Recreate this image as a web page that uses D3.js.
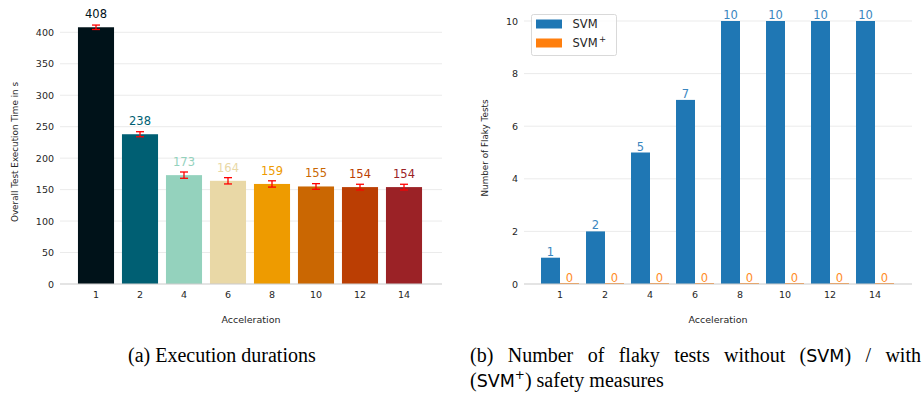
<!DOCTYPE html>
<html><head><meta charset="utf-8">
<script src="https://cdn.jsdelivr.net/npm/d3@7"></script>
<style>
body{margin:0;background:#fff;}
svg{display:block;}
</style></head><body>
<svg id="c" width="923" height="397"></svg>
<script>
// ---- data ----
const accel = ["1","2","4","6","8","10","12","14"];
const execTime = [408, 238, 173, 164, 159, 155, 154, 154];
const execErr = [3.5, 4, 5, 5, 5, 4.5, 4.5, 4.5];
const barColors = ["#001219","#005f73","#94d2bd","#e9d8a6","#ee9b00","#ca6702","#bb3e03","#9b2226"];
const leftTicks = [0,50,100,150,200,250,300,350,400];
const flakySVM = [1, 2, 5, 7, 10, 10, 10, 10];
const flakySVMplus = [0, 0, 0, 0, 0, 0, 0, 0];
const rightTicks = [0,2,4,6,8,10];
const seriesNames = ["SVM", "SVM+"];
const seriesColors = ["#1f77b4", "#ff7f0e"];

const svg = d3.select("#c");
const font = "'DejaVu Sans', sans-serif";
const tickCol = "#262626";

// ---------- Left chart ----------
const L = svg.append("g");
const xL = d3.scaleBand().domain(accel).range([74, 426]).paddingInner(0.18).paddingOuter(0.09);
const yL = d3.scaleLinear().domain([0, 400]).range([284, 32.3]);

L.append("g").selectAll("line").data(leftTicks.filter(d=>d>0)).join("line")
  .attr("x1", 60).attr("x2", 442).attr("y1", d=>yL(d)).attr("y2", d=>yL(d))
  .attr("stroke", "#ebebeb").attr("stroke-width", 1);

L.append("g").selectAll("rect").data(execTime).join("rect")
  .attr("x", (d,i)=>xL(accel[i])).attr("width", xL.bandwidth())
  .attr("y", d=>yL(d)).attr("height", d=>yL(0)-yL(d))
  .attr("fill", (d,i)=>barColors[i]);

L.append("line").attr("x1",60).attr("x2",442).attr("y1",yL(0)).attr("y2",yL(0))
  .attr("stroke","#cccccc").attr("stroke-opacity",0.7).attr("stroke-width",1.6);

// error bars
const eb = L.append("g").attr("stroke","#ff0000").attr("stroke-width",1.3);
execTime.forEach((v,i)=>{
  const cx = xL(accel[i]) + xL.bandwidth()/2;
  const e = execErr[i];
  eb.append("line").attr("x1",cx).attr("x2",cx).attr("y1",yL(v-e)).attr("y2",yL(v+e));
  eb.append("line").attr("x1",cx-4).attr("x2",cx+4).attr("y1",yL(v-e)).attr("y2",yL(v-e));
  eb.append("line").attr("x1",cx-4).attr("x2",cx+4).attr("y1",yL(v+e)).attr("y2",yL(v+e));
});

// value labels
L.append("g").selectAll("text").data(execTime).join("text")
  .attr("x", (d,i)=>xL(accel[i]) + xL.bandwidth()/2)
  .attr("y", d=>yL(d) - 9)
  .attr("text-anchor","middle").attr("font-family",font).attr("font-size",11.5)
  .attr("fill",(d,i)=>barColors[i])
  .text(d=>d);

// y axis
const yAxL = d3.axisLeft(yL).tickValues(leftTicks).tickSize(0).tickPadding(0);
L.append("g").attr("transform","translate(54,0)").call(yAxL)
  .call(g=>g.select(".domain").remove())
  .call(g=>g.selectAll("text").attr("font-family",font).attr("font-size",9.5).attr("fill",tickCol));
// x axis
const xAxL = d3.axisBottom(xL).tickSize(0).tickPadding(0);
L.append("g").attr("transform","translate(0,291)").call(xAxL)
  .call(g=>g.select(".domain").remove())
  .call(g=>g.selectAll("text").attr("font-family",font).attr("font-size",9.5).attr("fill",tickCol));

L.append("text").attr("x",251).attr("y",323).attr("text-anchor","middle")
  .attr("font-family",font).attr("font-size",9.5).attr("fill",tickCol).text("Acceleration");
L.append("text").attr("transform","translate(18,152) rotate(-90)").attr("text-anchor","middle")
  .attr("font-family",font).attr("font-size",8.8).attr("fill",tickCol).text("Overall Test Execution Time in s");

// ---------- Right chart ----------
const R = svg.append("g");
const xR = d3.scaleBand().domain(accel).range([537.5, 897.5]).paddingInner(0.156).paddingOuter(0.078);
const xSub = d3.scaleBand().domain(seriesNames).range([0, xR.bandwidth()]);
const yR = d3.scaleLinear().domain([0, 10]).range([284, 21]);

R.append("g").selectAll("line").data(rightTicks.filter(d=>d>0)).join("line")
  .attr("x1", 524).attr("x2", 912).attr("y1", d=>yR(d)).attr("y2", d=>yR(d))
  .attr("stroke", "#ebebeb").attr("stroke-width", 1);

const seriesData = [flakySVM, flakySVMplus];
seriesData.forEach((arr, s)=>{
  const g = R.append("g");
  g.selectAll("rect").data(arr).join("rect")
    .attr("x",(d,i)=>xR(accel[i]) + xSub(seriesNames[s])).attr("width", xSub.bandwidth())
    .attr("y", d=>yR(d)).attr("height", d=>yR(0)-yR(d))
    .attr("fill", seriesColors[s]);
  // zero-height bars drawn as a thin line
  g.selectAll("line").data(arr).join("line")
    .attr("display", d=>d===0 ? null : "none")
    .attr("x1",(d,i)=>xR(accel[i]) + xSub(seriesNames[s])).attr("x2",(d,i)=>xR(accel[i]) + xSub(seriesNames[s]) + xSub.bandwidth())
    .attr("y1", yR(0)-0.5).attr("y2", yR(0)-0.5).attr("stroke", seriesColors[s]).attr("stroke-width",1);
  g.selectAll("text").data(arr).join("text")
    .attr("x",(d,i)=>xR(accel[i]) + xSub(seriesNames[s]) + xSub.bandwidth()/2)
    .attr("y", d=>yR(d) - 2)
    .attr("text-anchor","middle").attr("font-family",font).attr("font-size",11.5)
    .attr("fill", s===0 ? "#3a86c0" : "#ff8c26")
    .text(d=>d);
});

R.append("line").attr("x1",524).attr("x2",912).attr("y1",yR(0)).attr("y2",yR(0))
  .attr("stroke","#cccccc").attr("stroke-opacity",0.7).attr("stroke-width",1.6);

const yAxR = d3.axisLeft(yR).tickValues(rightTicks).tickSize(0).tickPadding(0);
R.append("g").attr("transform","translate(518,0)").call(yAxR)
  .call(g=>g.select(".domain").remove())
  .call(g=>g.selectAll("text").attr("font-family",font).attr("font-size",9.5).attr("fill",tickCol));
const xAxR = d3.axisBottom(xR).tickSize(0).tickPadding(0);
R.append("g").attr("transform","translate(0,291)").call(xAxR)
  .call(g=>g.select(".domain").remove())
  .call(g=>g.selectAll("text").attr("font-family",font).attr("font-size",9.5).attr("fill",tickCol));

R.append("text").attr("x",718).attr("y",323).attr("text-anchor","middle")
  .attr("font-family",font).attr("font-size",9.5).attr("fill",tickCol).text("Acceleration");
R.append("text").attr("transform","translate(488,148) rotate(-90)").attr("text-anchor","middle")
  .attr("font-family",font).attr("font-size",8.8).attr("fill",tickCol).text("Number of Flaky Tests");

// legend
const lg = R.append("g");
lg.append("rect").attr("x",531.5).attr("y",14.5).attr("width",85).attr("height",41).attr("rx",2)
  .attr("fill","#fff").attr("fill-opacity",0.8).attr("stroke","#d9d9d9");
seriesNames.forEach((n,i)=>{
  const yy = 24 + i*19;
  lg.append("rect").attr("x",536).attr("y",yy-4.5).attr("width",26).attr("height",9).attr("fill",seriesColors[i]);
  const t = lg.append("text").attr("x",572.5).attr("y",yy+4).attr("font-family",font).attr("font-size",11.5).attr("fill",tickCol);
  if (n === "SVM+") {
    t.append("tspan").text("SVM");
    t.append("tspan").attr("dy",-5).attr("dx",1.5).attr("font-size",8.5).text("+");
  } else t.text(n);
});

// ---------- Captions ----------
const serif = "'Liberation Serif', 'Times New Roman', serif";
const capSize = 20;
const capSans = 17.5;
svg.append("text").attr("x",128).attr("y",362).attr("font-family",serif).attr("font-size",capSize).attr("fill","#000")
  .text("(a) Execution durations");
const c1 = svg.append("text").attr("x",470).attr("y",362).attr("font-family",serif).attr("font-size",capSize).attr("fill","#000");
c1.append("tspan").text("(b) Number of flaky tests without (");
c1.append("tspan").attr("font-family",font).attr("font-size",capSans).text("SVM");
c1.append("tspan").text(") / with");
// justify line 1 to the right edge by widening word gaps
const natural = c1.node().getComputedTextLength();
const gaps = 8;
c1.attr("word-spacing", Math.max(0, (921 - 470 - natural) / gaps));
const c2 = svg.append("text").attr("x",470).attr("y",387).attr("font-family",serif).attr("font-size",capSize).attr("fill","#000");
c2.append("tspan").text("(");
c2.append("tspan").attr("font-family",font).attr("font-size",capSans).text("SVM");
c2.append("tspan").attr("font-family",font).attr("font-size",12).attr("dy",-8).text("+");
c2.append("tspan").attr("dy",8).text(") safety measures");
</script>
</body></html>
